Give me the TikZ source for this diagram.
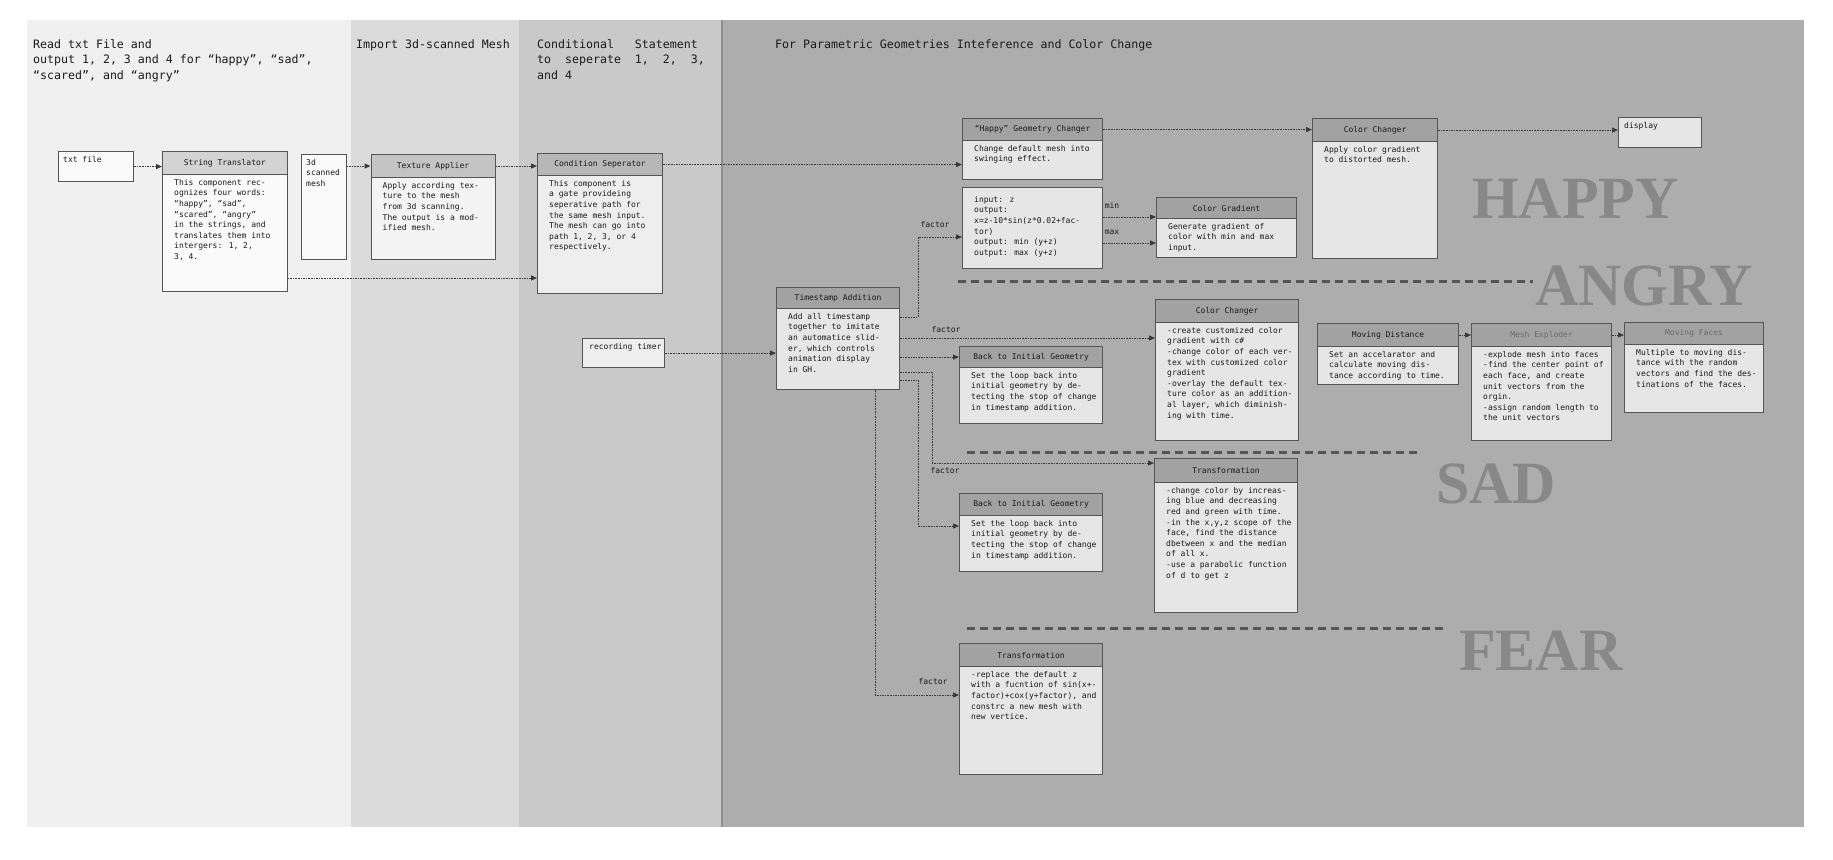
\documentclass[tikz,border=0pt]{standalone}
\usepackage{fontspec}
\setmainfont{DejaVu Sans Mono}
\newfontfamily\bigserif{Liberation Serif}
\usetikzlibrary{arrows.meta,calc}
\definecolor{panelA}{HTML}{F0F0F0}
\definecolor{panelB}{HTML}{DBDBDB}
\definecolor{panelC}{HTML}{C9C9C9}
\definecolor{panelD}{HTML}{ADADAD}
\definecolor{panelline}{HTML}{8E8E8E}
\definecolor{hdrgray}{HTML}{888888}
\definecolor{boxline}{HTML}{555555}
\definecolor{conncol}{HTML}{3A3A3A}
\definecolor{sepcol}{HTML}{555555}
\definecolor{bigcol}{HTML}{888888}
\definecolor{ttgray}{HTML}{6A6A6A}
\definecolor{txtcol}{HTML}{1A1A1A}
\tikzset{
  hdr/.style={draw=boxline, line width=1.1pt, fill=hdrgray, fill opacity=0.27, text opacity=1, text=txtcol, inner sep=0pt, font=\fontsize{8}{10.4}\selectfont},
  bdy/.style={draw=boxline, line width=1.1pt, fill=white, fill opacity=0.7, text opacity=1, inner sep=0pt},
  btxt/.style={inner sep=0pt, align=left, text=txtcol, font=\fontsize{8}{10.6}\selectfont},
  ptitle/.style={inner sep=0pt, align=left, text=txtcol, font=\fontsize{11.6}{15.5}\selectfont},
  lbl/.style={inner sep=0pt, text=txtcol, font=\fontsize{8}{10}\selectfont},
  conn/.style={draw=conncol, line width=1pt, dash pattern=on 1.6pt off 1pt, -{Triangle[length=6pt,width=5pt]}},
  sepline/.style={draw=sepcol, line width=3pt, dash pattern=on 8pt off 5pt},
  biglbl/.style={inner sep=0pt, text=bigcol, font=\bigserif\bfseries\fontsize{60}{60}\selectfont}
}
\newcommand\comp[8]{%
  \node[hdr,minimum width={#4-#2},minimum height={#5-#3},anchor=north west] (#1H) at (#2,#3) {#7};
  \node[bdy,minimum width={#4-#2},minimum height={#6-#5},anchor=north west] (#1B) at (#2,#5) {};
  \node[btxt,anchor=north west] (#1T) at (#2+12,#5+5) {#8};
}
\begin{document}
\begin{tikzpicture}[x=1pt,y=-1pt]
\useasboundingbox (0,0) rectangle (1833,859);
\fill[white] (0,0) rectangle (1833,859);
% panels
\fill[panelA] (27,20) rectangle (351,827);
\fill[panelB] (351,20) rectangle (519,827);
\fill[panelC] (519,20) rectangle (722,827);
\fill[panelD] (722,20) rectangle (1804,827);
\draw[panelline, line width=2pt] (722,20) -- (722,827);
% panel titles
\node[ptitle,anchor=north west] (p1t) at (33,39) {Read txt File and\\output 1, 2, 3 and 4 for “happy”, “sad”,\\“scared”, and “angry”};
\node[ptitle,anchor=north west] (p2t) at (356,39) {Import 3d-scanned Mesh};
\node[ptitle,anchor=north west] (p3t) at (537,39) {Conditional~~~Statement\\to~~seperate~~1,~~2,~~3,\\and 4};
\node[ptitle,anchor=north west] (p4t) at (775,39) {For Parametric Geometries Inteference and Color Change};
% big labels
\node[biglbl,anchor=base west] (lhappy) at (1472,218) {HAPPY};
\node[biglbl,anchor=base west] (langry) at (1535,305) {ANGRY};
\node[biglbl,anchor=base west] (lsad) at (1436,503) {SAD};
\node[biglbl,anchor=base west] (lfear) at (1459,670) {FEAR};
% separators
\draw[sepline] (958,281) -- (1533,281);
\draw[sepline] (967,452) -- (1422,452);
\draw[sepline] (967,628) -- (1445,628);
% simple boxes
\node[bdy,minimum width=75.5,minimum height=30,anchor=north west] (txt) at (57.5,151) {};
\node[btxt,anchor=north west] (txtT) at (63,156) {txt file};
\node[bdy,minimum width=44.5,minimum height=105,anchor=north west] (mesh) at (301,154) {};
\node[btxt,anchor=north west] (meshT) at (306,159) {3d\\scanned\\mesh};
\node[bdy,minimum width=82,minimum height=29,anchor=north west] (timer) at (582,338) {};
\node[btxt,anchor=north west] (timerT) at (589,343) {recording timer};
\node[bdy,minimum width=83,minimum height=30,anchor=north west] (disp) at (1618,117) {};
\node[btxt,anchor=north west] (dispT) at (1624,122) {display};
\node[bdy,minimum width=140,minimum height=81,anchor=north west] (fm) at (962,187) {};
\node[btxt,anchor=north west] (fmT) at (974,196) {input: z\\output:\\x=z-10*sin(z*0.02+fac-\\tor)\\output: min (y+z)\\output: max (y+z)};
% components
\comp{st}{162}{151}{286.5}{174}{291}{String Translator}{This component rec-\\ognizes four words:\\“happy”, “sad”,\\“scared”, “angry”\\in the strings, and\\translates them into\\intergers: 1, 2,\\3, 4.}
\comp{tx}{370.5}{154}{494.5}{177}{259}{Texture Applier}{Apply according tex-\\ture to the mesh\\from 3d scanning.\\The output is a mod-\\ified mesh.}
\comp{cs}{537}{153}{662}{175}{293}{Condition Seperator}{This component is\\a gate provideing\\seperative path for\\the same mesh input.\\The mesh can go into\\path 1, 2, 3, or 4\\respectively.}
\comp{ts}{776}{287}{899}{308}{389}{Timestamp Addition}{Add all timestamp\\together to imitate\\an automatice slid-\\er, which controls\\animation display\\in GH.}
\comp{hg}{962}{118}{1102}{140}{179}{“Happy” Geometry Changer}{Change default mesh into\\swinging effect.}
\comp{cg}{1156}{197}{1296}{218}{257}{Color Gradient}{Generate gradient of\\color with min and max\\input.}
\comp{cc}{1312}{118}{1437}{141}{258}{Color Changer}{Apply color gradient\\to distorted mesh.}
\comp{bi}{959}{346}{1102}{367}{423}{Back to Initial Geometry}{Set the loop back into\\initial geometry by de-\\tecting the stop of change\\in timestamp addition.}
\comp{ca}{1155}{299}{1298}{322}{440}{Color Changer}{-create customized color\\gradient with c\#\\-change color of each ver-\\tex with customized color\\gradient\\-overlay the default tex-\\ture color as an addition-\\al layer, which diminish-\\ing with time.}
\comp{md}{1317}{323}{1458}{346}{384}{Moving Distance}{Set an accelarator and\\calculate moving dis-\\tance according to time.}
\comp{me}{1471}{323}{1611}{346}{440}{\color{ttgray}Mesh Exploder}{-explode mesh into faces\\-find the center point of\\each face, and create\\unit vectors from the\\orgin.\\-assign random length to\\the unit vectors}
\comp{mf}{1624}{322}{1763}{344}{412}{\color{ttgray}Moving Faces}{Multiple to moving dis-\\tance with the random\\vectors and find the des-\\tinations of the faces.}
\comp{sd}{1154}{458}{1297}{482}{612}{Transformation}{-change color by increas-\\ing blue and decreasing\\red and green with time.\\-in the x,y,z scope of the\\face, find the distance\\dbetween x and the median\\of all x.\\-use a parabolic function\\of d to get z}
\comp{bj}{959}{493}{1102}{515}{571}{Back to Initial Geometry}{Set the loop back into\\initial geometry by de-\\tecting the stop of change\\in timestamp addition.}
\comp{tf}{959}{643}{1102}{666}{774}{Transformation}{-replace the default z\\with a fucntion of sin(x+-\\factor)+cox(y+factor), and\\constrc a new mesh with\\new vertice.}
% helper coordinates
\coordinate (y278) at (0,278);
\coordinate (y217) at (0,217);
\coordinate (y243) at (0,243);
\coordinate (y317) at (0,317);
\coordinate (y237) at (0,237);
\coordinate (y338) at (0,338);
\coordinate (y372) at (0,372);
\coordinate (y463) at (0,463);
\coordinate (y380) at (0,380);
\coordinate (y526) at (0,526);
\coordinate (y695) at (0,695);
\coordinate (x875) at (875,0);
% connectors
\draw[conn] (txt.east) -- (stH.west |- txt.east);
\draw[conn] (mesh.east |- txH.west) -- (txH.west);
\draw[conn] (txH.east) -- (csH.west |- txH.east);
\draw[conn] (stB.east |- y278) -- (csB.west |- y278);
\draw[conn] (csH.east) -- (hgB.west |- csH.east);
\draw[conn] (hgH.east) -- (ccH.west |- hgH.east);
\draw[conn] (ccH.east) -- (disp.west |- ccH.east);
\draw[conn] (fm.east |- y217) -- (cgB.west |- y217);
\draw[conn] (fm.east |- y243) -- (cgB.west |- y243);
\draw[conn] (timer.east) -- (tsB.west |- timer.east);
\draw[conn] (tsB.east |- y317) -- ++(18,0) |- (fm.west |- y237);
\draw[conn] (tsB.east |- y338) -- (caB.west |- y338);
\draw[conn] (tsB.east |- biH.west) -- (biH.west);
\draw[conn] (tsB.east |- y372) -- ++(32,0) |- (sdH.west |- y463);
\draw[conn] (tsB.east |- y380) -- ++(18,0) |- (bjB.west |- y526);
\draw[conn] (tsB.south -| x875) |- (tfB.west |- y695);
\draw[conn] (mdH.east) -- (meH.west);
\draw[conn] (meH.east) -- (mfH.west |- meH.east);
% connector labels
\node[lbl] (lmin) at (1112,205) {min};
\node[lbl] (lmax) at (1112,232) {max};
\node[lbl] (lf1) at (935,225) {factor};
\node[lbl] (lf2) at (946,330) {factor};
\node[lbl] (lf3) at (945,471) {factor};
\node[lbl] (lf4) at (933,682) {factor};
\end{tikzpicture}
\end{document}
